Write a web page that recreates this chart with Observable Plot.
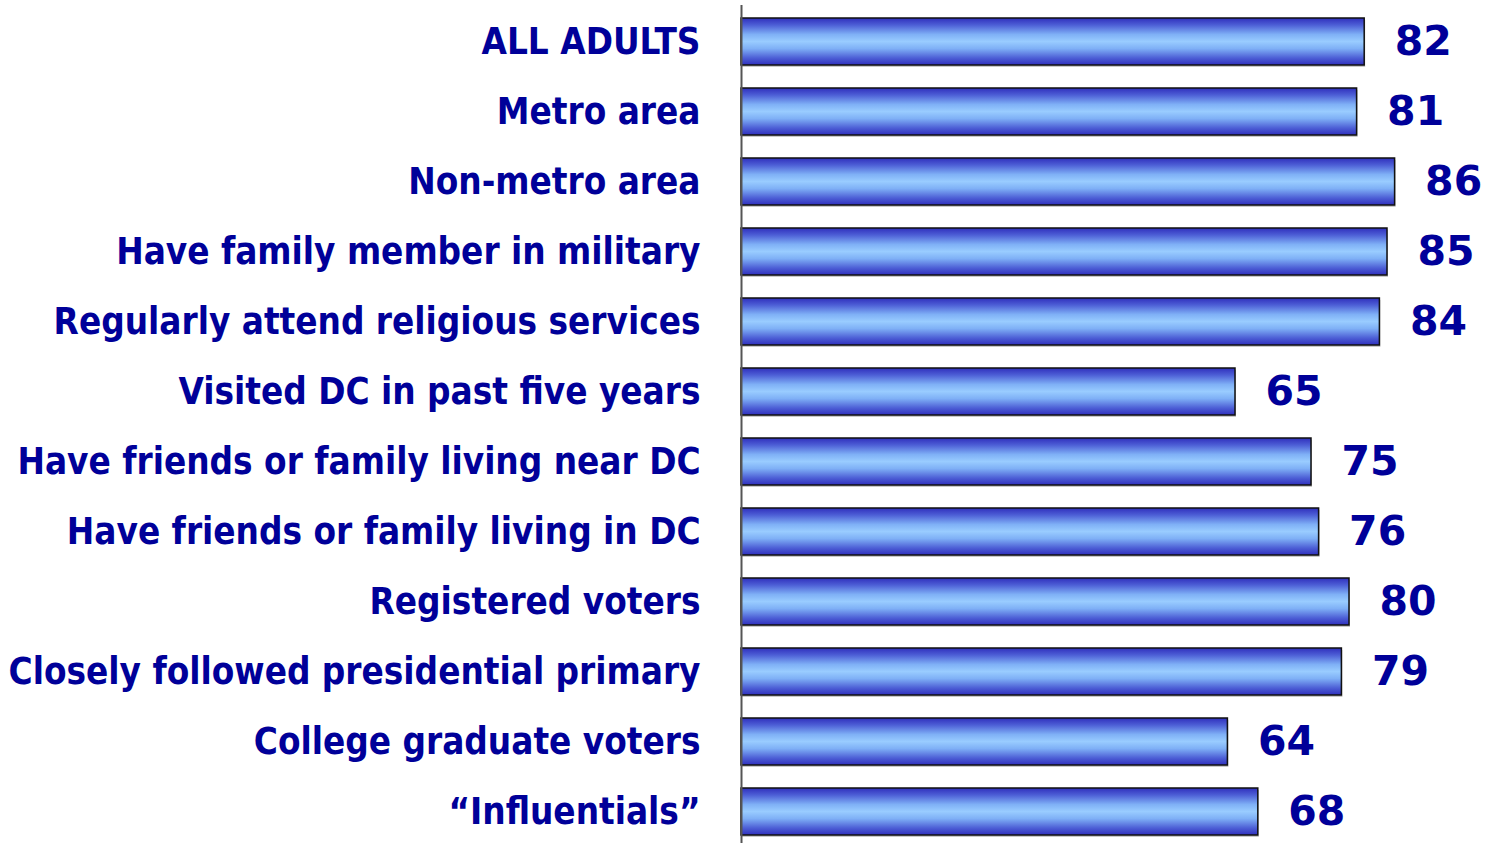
<!DOCTYPE html>
<html>
<head>
<meta charset="utf-8">
<script src="https://cdn.jsdelivr.net/npm/d3@7"></script>
<script src="https://cdn.jsdelivr.net/npm/@observablehq/plot@0.6"></script>
<style>
  html, body { margin: 0; padding: 0; background: #fff; }
</style>
</head>
<body>
<div id="chart"></div>
<script>
const categories = [
  "ALL ADULTS",
  "Metro area",
  "Non-metro area",
  "Have family member in military",
  "Regularly attend religious services",
  "Visited DC in past five years",
  "Have friends or family living near DC",
  "Have friends or family living in DC",
  "Registered voters",
  "Closely followed presidential primary",
  "College graduate voters",
  "\u201CInfluentials\u201D"
];
const values = [82, 81, 86, 85, 84, 65, 75, 76, 80, 79, 64, 68];

const data = categories.map((c, i) => ({category: c, value: values[i]}));

const plot = Plot.plot({
  width: 1497,
  height: 843,
  marginLeft: 741,
  marginRight: 72,
  marginTop: 5,
  marginBottom: 0,
  style: {fontFamily: "'DejaVu Sans Condensed', 'DejaVu Sans', sans-serif", color: "#000099", background: "#fff"},
  x: {domain: [0, 90], axis: null},
  y: {domain: categories, range: [16, 836], paddingInner: 0.331, paddingOuter: 0, label: null},
  marks: [
    Plot.barX(data, {x: "value", y: "category", fill: "#c8c8c8", dx: 1, dy: 2}),
    Plot.barX(data, {x: "value", y: "category", fill: "url(#barGrad)", stroke: "#111", strokeWidth: 1.5}),
    Plot.ruleX([0], {stroke: "#555", strokeWidth: 2}),
    Plot.axisY({tickSize: 0, tickPadding: 41, fontSize: 36.5, fontWeight: "bold", fill: "#000099", label: null}),
    Plot.text(data, {x: "value", y: "category", text: d => String(d.value), dx: 30, textAnchor: "start", fontSize: 41, fontWeight: "bold", fill: "#000099", fontFamily: "'DejaVu Sans', sans-serif"})
  ]
});

// gradient definition
const ns = "http://www.w3.org/2000/svg";
const defs = document.createElementNS(ns, "defs");
const grad = document.createElementNS(ns, "linearGradient");
grad.setAttribute("id", "barGrad");
grad.setAttribute("x1", "0"); grad.setAttribute("y1", "0");
grad.setAttribute("x2", "0"); grad.setAttribute("y2", "1");
[[0, "#2f2fbc"], [0.15, "#4d5fd6"], [0.35, "#7fb0f6"], [0.5, "#99ccff"], [0.65, "#7fb0f6"], [0.85, "#4d5fd6"], [1, "#2f2fbc"]]
  .forEach(([o, c]) => {
    const s = document.createElementNS(ns, "stop");
    s.setAttribute("offset", o);
    s.setAttribute("stop-color", c);
    grad.appendChild(s);
  });
defs.appendChild(grad);
plot.insertBefore(defs, plot.firstChild);

document.getElementById("chart").appendChild(plot);
</script>
</body>
</html>
